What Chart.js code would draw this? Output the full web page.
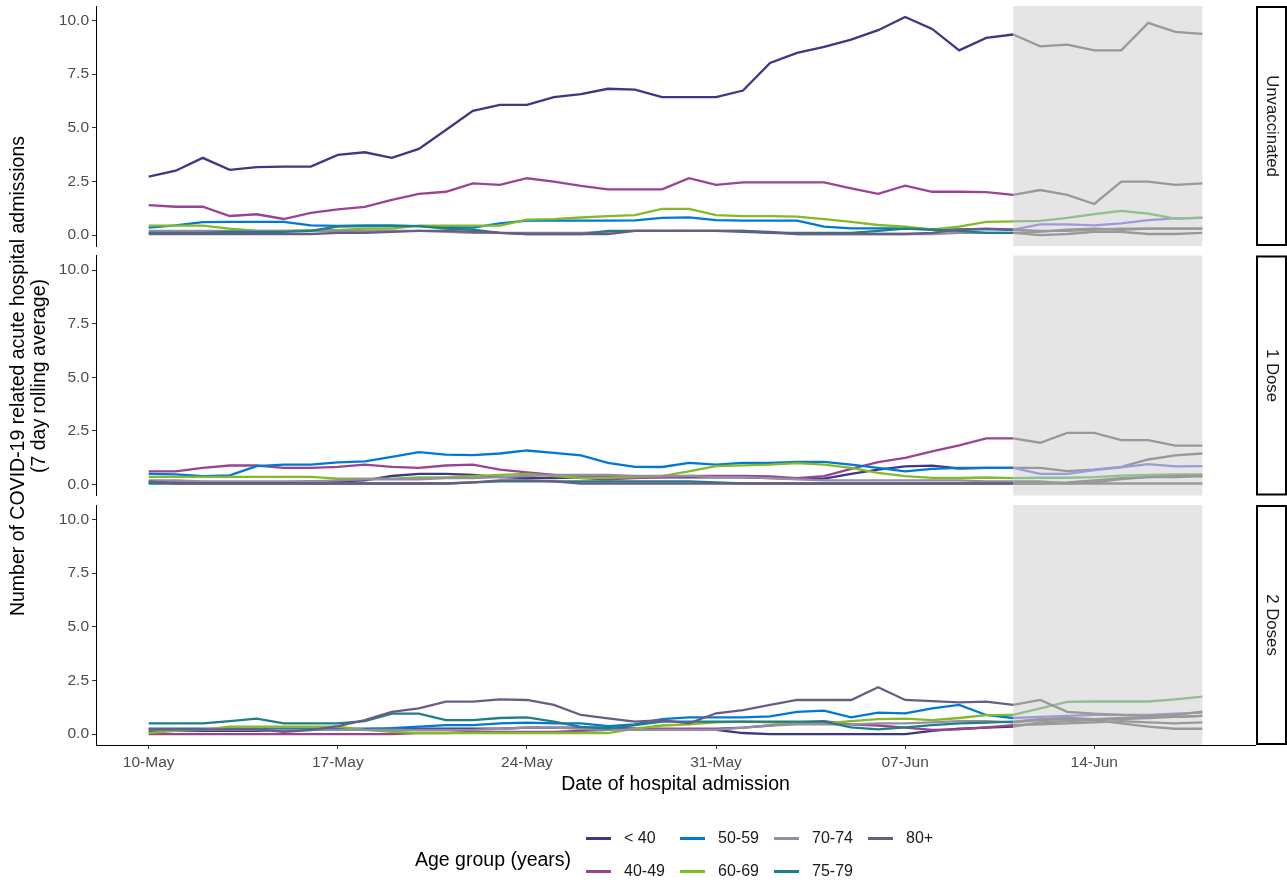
<!DOCTYPE html>
<html>
<head>
<meta charset="utf-8">
<title>COVID-19 related acute hospital admissions by vaccination status</title>
<script src="https://cdn.jsdelivr.net/npm/chart.js@4.4.1/dist/chart.umd.min.js"></script>
<style>
  html, body { margin: 0; padding: 0; background: #ffffff; }
  #wrap { position: relative; width: 1287px; height: 884px; overflow: hidden;
          font-family: 'Liberation Sans', Arial, sans-serif; }
  #wrap canvas { position: absolute; left: 0; }
  #ytitle { position: absolute; left: 28px; top: 375.5px; width: 760px; margin-left: -380px;
            transform: translateY(-50%) rotate(-90deg); text-align: center;
            font-size: 19.5px; line-height: 21px; color: #000; white-space: nowrap; }
  #legend { position: absolute; left: 0; top: 0; width: 1287px; height: 884px; pointer-events: none; }
  .lg-title { position: absolute; left: 415px; top: 859px; transform: translateY(-50%);
              font-size: 19.5px; color: #000; white-space: nowrap; }
  .lg-key { position: absolute; width: 25px; height: 2.5px; }
  .lg-label { position: absolute; font-size: 16px; color: #1a1a1a; transform: translateY(-50%); white-space: nowrap; }
</style>
</head>
<body>
<div id="wrap">
  <canvas id="panel1" width="1287" height="250" style="top:0px"></canvas>
  <canvas id="panel2" width="1287" height="250" style="top:250px"></canvas>
  <canvas id="panel3" width="1287" height="310" style="top:500px"></canvas>
  <div id="ytitle">Number of COVID-19 related acute hospital admissions<br>(7 day rolling average)</div>
  <div id="legend"></div>
</div>
<script>
// Admission dates (one point per day)
const dates = ['10-May','11-May','12-May','13-May','14-May','15-May','16-May','17-May','18-May','19-May',
               '20-May','21-May','22-May','23-May','24-May','25-May','26-May','27-May','28-May','29-May',
               '30-May','31-May','01-Jun','02-Jun','03-Jun','04-Jun','05-Jun','06-Jun','07-Jun','08-Jun',
               '09-Jun','10-Jun','11-Jun','12-Jun','13-Jun','14-Jun','15-Jun','16-Jun','17-Jun','18-Jun'];
const xTickDates = ['10-May','17-May','24-May','31-May','07-Jun','14-Jun'];
const yTicks = [0, 2.5, 5, 7.5, 10];
const provisionalFrom = '11-Jun';

const ageGroups = ['< 40','40-49','50-59','60-69','70-74','75-79','80+'];
const ageColours = ['#3F3685','#9B4393','#0078D4','#83BB26','#948DA3','#1E7F84','#6B5C85'];
const provisionalColours = ['#999999','#999999','#9b9ade','#91bf8f','#999999','#999999','#999999'];
const panelNames = ['Unvaccinated','1 Dose','2 Doses'];

// Unvaccinated
const unvacUnder40 = [2.72,3.00,3.60,3.04,3.17,3.19,3.19,3.74,3.86,3.60, 4.02,4.90,5.79,6.07,6.07,6.43,6.57,6.82,6.78,6.43, 6.43,6.43,6.74,8.02,8.49,8.77,9.11,9.55,10.17,9.61, 8.61,9.19,9.35,8.80,8.88,8.61,8.61,9.89,9.47,9.38];
const unvac40to49 = [1.40,1.32,1.32,0.89,0.97,0.75,1.04,1.20,1.32,1.64, 1.92,2.02,2.41,2.34,2.65,2.49,2.29,2.13,2.13,2.13, 2.65,2.34,2.46,2.46,2.46,2.46,2.18,1.92,2.30,2.02, 2.02,2.00,1.87,2.10,1.87,1.45,2.49,2.49,2.34,2.41];
const unvac50to59 = [0.35,0.45,0.60,0.62,0.62,0.62,0.45,0.43,0.45,0.45, 0.42,0.38,0.35,0.55,0.67,0.67,0.67,0.67,0.69,0.80, 0.83,0.70,0.67,0.67,0.67,0.39,0.31,0.31,0.31,0.27, 0.27,0.28,0.25,0.50,0.50,0.45,0.55,0.70,0.78,0.80];
const unvac60to69 = [0.44,0.44,0.44,0.30,0.19,0.19,0.23,0.23,0.30,0.30, 0.44,0.44,0.44,0.44,0.72,0.74,0.82,0.88,0.93,1.22, 1.22,0.93,0.88,0.88,0.86,0.74,0.62,0.47,0.39,0.27, 0.39,0.62,0.64,0.66,0.80,0.98,1.13,1.00,0.77,0.81];
const unvac70to74 = [0.20,0.20,0.20,0.20,0.20,0.20,0.20,0.20,0.20,0.20, 0.20,0.15,0.10,0.10,0.10,0.10,0.10,0.15,0.20,0.20, 0.20,0.20,0.20,0.10,0.05,0.05,0.05,0.05,0.05,0.05, 0.10,0.10,0.10,0.00,0.05,0.15,0.15,0.05,0.05,0.10];
const unvac75to79 = [0.10,0.10,0.10,0.15,0.15,0.15,0.20,0.40,0.42,0.42, 0.42,0.30,0.25,0.10,0.05,0.05,0.05,0.20,0.20,0.20, 0.20,0.20,0.15,0.10,0.10,0.10,0.10,0.20,0.30,0.25, 0.20,0.10,0.10,0.15,0.25,0.30,0.25,0.30,0.30,0.30];
const unvac80plus = [0.05,0.05,0.05,0.05,0.05,0.05,0.05,0.10,0.10,0.15, 0.20,0.20,0.15,0.10,0.05,0.05,0.05,0.05,0.20,0.20, 0.20,0.20,0.20,0.15,0.05,0.05,0.05,0.05,0.05,0.10, 0.25,0.30,0.25,0.20,0.20,0.25,0.30,0.30,0.30,0.30];

// 1 Dose
const dose1Under40 = [0.10,0.10,0.10,0.10,0.10,0.10,0.15,0.15,0.20,0.40, 0.50,0.50,0.45,0.35,0.30,0.30,0.34,0.34,0.34,0.34, 0.34,0.34,0.34,0.30,0.28,0.28,0.50,0.70,0.85,0.88, 0.75,0.78,0.78,0.78,0.63,0.70,0.83,1.17,1.36,1.45];
const dose1_40to49 = [0.62,0.62,0.78,0.89,0.89,0.78,0.78,0.83,0.93,0.83, 0.78,0.89,0.93,0.70,0.57,0.45,0.30,0.25,0.30,0.35, 0.40,0.40,0.40,0.38,0.30,0.39,0.73,1.05,1.24,1.55, 1.83,2.15,2.15,1.95,2.41,2.41,2.07,2.07,1.82,1.82];
const dose1_50to59 = [0.50,0.48,0.39,0.43,0.86,0.93,0.93,1.04,1.08,1.29, 1.51,1.40,1.37,1.45,1.59,1.48,1.36,1.01,0.83,0.82, 1.01,0.93,1.01,1.01,1.06,1.06,0.93,0.78,0.62,0.73, 0.78,0.78,0.78,0.50,0.50,0.68,0.80,0.95,0.85,0.86];
const dose1_60to69 = [0.36,0.36,0.36,0.36,0.36,0.36,0.36,0.28,0.28,0.28, 0.34,0.34,0.39,0.45,0.50,0.40,0.31,0.31,0.35,0.39, 0.62,0.86,0.90,0.93,1.00,0.93,0.78,0.55,0.39,0.31, 0.31,0.33,0.30,0.32,0.32,0.35,0.42,0.45,0.47,0.47];
const dose1_70to74 = [0.20,0.20,0.15,0.15,0.15,0.15,0.15,0.20,0.25,0.25, 0.25,0.30,0.30,0.35,0.40,0.45,0.45,0.45,0.40,0.40, 0.40,0.35,0.35,0.30,0.25,0.20,0.20,0.20,0.20,0.20, 0.20,0.15,0.15,0.15,0.05,0.10,0.25,0.35,0.40,0.40];
const dose1_75to79 = [0.05,0.05,0.05,0.05,0.05,0.05,0.05,0.05,0.05,0.05, 0.05,0.05,0.10,0.15,0.15,0.15,0.15,0.15,0.15,0.15, 0.15,0.10,0.05,0.05,0.05,0.05,0.05,0.05,0.05,0.05, 0.05,0.05,0.05,0.05,0.10,0.20,0.30,0.35,0.35,0.40];
const dose1_80plus = [0.15,0.05,0.05,0.05,0.05,0.05,0.05,0.05,0.05,0.05, 0.05,0.05,0.10,0.20,0.20,0.15,0.05,0.05,0.05,0.05, 0.05,0.05,0.05,0.05,0.05,0.05,0.05,0.05,0.05,0.05, 0.05,0.05,0.05,0.05,0.05,0.05,0.05,0.05,0.05,0.05];

// 2 Doses
const dose2Under40 = [0.15,0.15,0.15,0.15,0.15,0.20,0.20,0.20,0.20,0.25, 0.25,0.25,0.25,0.25,0.30,0.30,0.30,0.30,0.25,0.20, 0.20,0.20,0.05,0.00,0.00,0.00,0.00,0.00,0.00,0.15, 0.25,0.30,0.35,0.55,0.60,0.65,0.70,0.75,0.80,0.85];
const dose2_40to49 = [0.00,0.00,0.00,0.00,0.00,0.00,0.00,0.00,0.00,0.00, 0.05,0.05,0.10,0.10,0.10,0.10,0.15,0.20,0.25,0.25, 0.25,0.25,0.30,0.40,0.55,0.60,0.45,0.40,0.30,0.20, 0.22,0.31,0.42,0.45,0.50,0.55,0.60,0.55,0.50,0.55];
const dose2_50to59 = [0.25,0.25,0.25,0.25,0.25,0.25,0.25,0.25,0.25,0.28, 0.35,0.42,0.42,0.50,0.53,0.50,0.50,0.37,0.45,0.70, 0.78,0.78,0.78,0.83,1.04,1.09,0.78,1.00,0.97,1.20, 1.36,0.89,0.75,0.80,0.85,0.90,0.90,0.90,0.95,1.00];
const dose2_60to69 = [0.05,0.15,0.20,0.35,0.35,0.35,0.35,0.35,0.20,0.10, 0.05,0.05,0.05,0.05,0.05,0.05,0.05,0.05,0.25,0.40, 0.45,0.55,0.58,0.55,0.50,0.50,0.60,0.70,0.72,0.65, 0.75,0.88,0.90,1.20,1.50,1.52,1.52,1.52,1.62,1.75];
const dose2_70to74 = [0.20,0.20,0.20,0.20,0.20,0.20,0.20,0.20,0.20,0.20, 0.20,0.20,0.20,0.25,0.30,0.30,0.25,0.20,0.20,0.20, 0.20,0.20,0.30,0.40,0.45,0.45,0.45,0.50,0.50,0.55, 0.60,0.60,0.55,0.65,0.70,0.65,0.50,0.35,0.25,0.25];
const dose2_75to79 = [0.50,0.50,0.50,0.60,0.72,0.50,0.50,0.50,0.60,0.95, 0.95,0.65,0.65,0.75,0.78,0.58,0.34,0.26,0.42,0.58, 0.58,0.58,0.58,0.58,0.58,0.58,0.31,0.22,0.31,0.42, 0.50,0.53,0.58,0.70,0.75,0.70,0.75,0.80,0.80,0.85];
const dose2_80plus = [0.22,0.22,0.22,0.22,0.22,0.11,0.19,0.37,0.65,1.04, 1.20,1.51,1.51,1.62,1.59,1.36,0.89,0.73,0.58,0.65, 0.50,0.97,1.12,1.36,1.59,1.59,1.59,2.18,1.59,1.54, 1.48,1.51,1.36,1.59,1.04,0.95,0.90,0.85,0.90,1.05];

const panelSeries = [
  [unvacUnder40, unvac40to49, unvac50to59, unvac60to69, unvac70to74, unvac75to79, unvac80plus],
  [dose1Under40, dose1_40to49, dose1_50to59, dose1_60to69, dose1_70to74, dose1_75to79, dose1_80plus],
  [dose2Under40, dose2_40to49, dose2_50to59, dose2_60to69, dose2_70to74, dose2_75to79, dose2_80plus]
];

Chart.defaults.font.family = "'Liberation Sans', Arial, sans-serif";

const shadeStart = dates.indexOf(provisionalFrom);
const lastIndex = dates.length - 1;
const xPad = 0.05 * lastIndex;
const yDataMax = Math.max(...panelSeries.flat(2));
const yPad = 0.05 * yDataMax;

// Provisional-period shading and the facet strip on the right
const panelDecor = {
  id: 'panelDecor',
  beforeDraw(chart) {
    const { ctx, chartArea: a, scales: { x } } = chart;
    const x0 = x.getPixelForValue(shadeStart);
    const x1 = x.getPixelForValue(lastIndex);
    ctx.save();
    ctx.fillStyle = '#e5e5e5';
    ctx.fillRect(x0, a.top, x1 - x0, a.bottom - a.top);
    ctx.restore();
  },
  afterDraw(chart, args, opts) {
    const { ctx, chartArea: a } = chart;
    const left = a.right + 2, w = 29;
    ctx.save();
    ctx.fillStyle = '#ffffff';
    ctx.fillRect(left, a.top, w, a.bottom - a.top);
    ctx.strokeStyle = '#000000';
    ctx.lineWidth = 2;
    ctx.strokeRect(left, a.top + 1, w, a.bottom - a.top - 2);
    ctx.translate(left + w / 2, (a.top + a.bottom) / 2);
    ctx.rotate(Math.PI / 2);
    ctx.fillStyle = '#1a1a1a';
    ctx.font = "16.8px 'Liberation Sans', Arial, sans-serif";
    ctx.textAlign = 'center';
    ctx.textBaseline = 'middle';
    ctx.fillText(opts.label, 0, 0);
    ctx.restore();
  }
};

function buildPanel(canvasId, panelIndex, padding, showX) {
  const datasets = panelSeries[panelIndex].map((vals, i) => ({
    label: ageGroups[i],
    data: vals.map((v, j) => ({ x: j, y: v })),
    borderColor: ageColours[i],
    borderWidth: 2.3,
    pointRadius: 0,
    pointHoverRadius: 0,
    tension: 0,
    fill: false,
    order: ageGroups.length - i,
    segment: {
      borderColor: c => (c.p0DataIndex >= shadeStart ? provisionalColours[i] : undefined)
    }
  }));

  return new Chart(document.getElementById(canvasId), {
    type: 'line',
    data: { datasets },
    plugins: [panelDecor],
    options: {
      responsive: false,
      animation: false,
      events: [],
      layout: { padding },
      plugins: {
        legend: { display: false },
        tooltip: { enabled: false },
        panelDecor: { label: panelNames[panelIndex] }
      },
      scales: {
        x: {
          type: 'linear',
          min: -xPad,
          max: lastIndex + xPad,
          display: showX,
          afterBuildTicks: s => { s.ticks = xTickDates.map(d => ({ value: dates.indexOf(d) })); },
          afterFit: s => {
            if (showX) s.height = 55;
            s.paddingLeft = 0;
            s.paddingRight = 0;
          },
          ticks: {
            callback: v => dates[v],
            color: '#4d4d4d',
            font: { size: 15.5 },
            padding: 4,
            maxRotation: 0,
            autoSkip: false
          },
          grid: { drawOnChartArea: false, tickLength: 4, color: '#333333' },
          border: { color: '#000000', width: 1 },
          title: {
            display: true,
            text: 'Date of hospital admission',
            color: '#000000',
            font: { size: 19.5 },
            padding: { top: 0, bottom: 3.6 }
          }
        },
        y: {
          type: 'linear',
          min: -yPad,
          max: yDataMax + yPad,
          afterBuildTicks: s => { s.ticks = yTicks.map(v => ({ value: v })); },
          afterFit: s => {
            s.width = 96;
            s.paddingTop = 0;
            s.paddingBottom = 0;
          },
          ticks: {
            callback: v => v.toFixed(1),
            color: '#4d4d4d',
            font: { size: 15.5 },
            padding: 3
          },
          grid: { drawOnChartArea: false, tickLength: 4, color: '#333333' },
          border: { color: '#000000', width: 1 }
        }
      }
    }
  });
}

buildPanel('panel1', 0, { top: 6, right: 32, bottom: 4, left: 0 }, false);
buildPanel('panel2', 1, { top: 5.5, right: 32, bottom: 4.5, left: 0 }, false);
buildPanel('panel3', 2, { top: 5, right: 32, bottom: 10, left: 0 }, true);

// Legend: title on the left, keys filled column by column in two rows
(function buildLegend() {
  const box = document.getElementById('legend');
  const title = document.createElement('div');
  title.className = 'lg-title';
  title.textContent = 'Age group (years)';
  box.appendChild(title);
  const rowY = [838, 871];
  ageGroups.forEach((name, i) => {
    const col = Math.floor(i / 2), row = i % 2;
    const left = 586 + col * 94;
    const key = document.createElement('div');
    key.className = 'lg-key';
    key.style.left = left + 'px';
    key.style.top = (rowY[row] - 1) + 'px';
    key.style.background = ageColours[i];
    box.appendChild(key);
    const lab = document.createElement('div');
    lab.className = 'lg-label';
    lab.style.left = (left + 38) + 'px';
    lab.style.top = rowY[row] + 'px';
    lab.textContent = name;
    box.appendChild(lab);
  });
})();
</script>
</body>
</html>
